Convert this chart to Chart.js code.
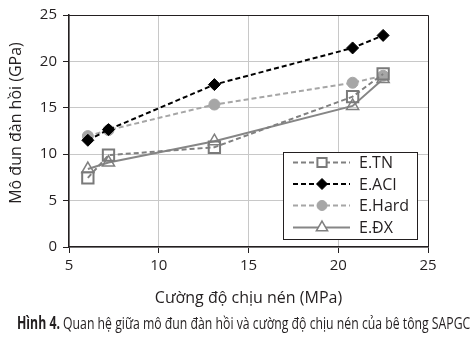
<!DOCTYPE html>
<html>
<head>
<meta charset="utf-8">
<script src="https://cdn.jsdelivr.net/npm/chart.js@4"></script>
<style>
  html, body { margin: 0; padding: 0; background: #fff; }
  #wrap { position: relative; width: 475px; height: 338px; overflow: hidden; }
  #box { position: absolute; left: 0; top: 0; width: 475px; height: 312px; }
  #caption {
    position: absolute; left: 17px; top: 313px; white-space: nowrap;
    font-family: "Open Sans", sans-serif; font-size: 17px; color: #231f20;
    transform-origin: 0 0; line-height: 20px;
  }
  #caption b { font-weight: 700; }
</style>
</head>
<body>
<div id="wrap">
  <div id="box"><canvas id="c"></canvas></div>
  <div id="caption"><b>Hình 4.</b> Quan hệ giữa mô đun đàn hồi và cường độ chịu nén của bê tông SAPGC</div>
</div>
<script>
// Compressive strength (MPa) of the test groups
const compressiveStrength = [6.05, 7.2, 13.1, 20.8, 22.5];

// Elastic modulus (GPa): measured and predicted
const eTN   = [7.45, 9.9, 10.75, 16.2, 18.65];
const eACI  = [11.5, 12.65, 17.5, 21.45, 22.8];
const eHard = [11.95, 12.6, 15.35, 17.7, 18.45];
const eDX   = [8.4, 9.1, 11.4, 15.2, 18.1];

const seriesLabels = ['E.TN', 'E.ACI', 'E.Hard', 'E.ĐX'];
const xTicks = [5, 10, 15, 20, 25];
const yTicks = [0, 5, 10, 15, 20, 25];
const yTitle = 'Mô đun đàn hồi (GPa)';

const ink = '#231f20';
const toPoints = ys => ys.map((y, i) => ({ x: compressiveStrength[i], y }));

const datasets = [
  { label: seriesLabels[0], data: toPoints(eTN), borderColor: '#808080', borderDash: [5, 3], borderWidth: 2,
    pointStyle: 'rect', pointRadius: 8, pointBorderWidth: 2, pointBorderColor: '#7a7a7a', pointBackgroundColor: 'rgba(255,255,255,0)',
    legendRadius: 6.5, legendFill: '#fff' },
  { label: seriesLabels[1], data: toPoints(eACI), borderColor: '#000', borderDash: [5, 3], borderWidth: 2,
    pointStyle: 'rectRot', pointRadius: 6, pointBorderWidth: 1, pointBorderColor: '#000', pointBackgroundColor: '#000',
    legendRadius: 5.5, legendFill: '#000' },
  { label: seriesLabels[2], data: toPoints(eHard), borderColor: '#a6a6a6', borderDash: [5, 3], borderWidth: 2,
    pointStyle: 'circle', pointRadius: 5.5, pointBorderWidth: 1, pointBorderColor: '#a6a6a6', pointBackgroundColor: '#a6a6a6',
    legendRadius: 5, legendFill: '#a6a6a6' },
  { label: seriesLabels[3], data: toPoints(eDX), borderColor: '#868686', borderDash: [], borderWidth: 2,
    pointStyle: 'triangle', pointRadius: 7, pointBorderWidth: 1.5, pointBorderColor: '#808080', pointBackgroundColor: 'rgba(255,255,255,0)',
    legendRadius: 6.5, legendFill: '#fff' }
];

// Top and right edges of the plot frame, plus the rotated y-axis title
const framePlugin = {
  id: 'frame',
  afterDraw(chart) {
    const { ctx, chartArea: a } = chart;
    ctx.save();
    ctx.strokeStyle = ink;
    ctx.lineWidth = 1;
    ctx.beginPath();
    ctx.moveTo(a.left, a.top + 0.5);
    ctx.lineTo(a.right + 0.5, a.top + 0.5);
    ctx.lineTo(a.right + 0.5, a.bottom);
    ctx.stroke();

    ctx.translate(16, 123);
    ctx.rotate(-Math.PI / 2);
    ctx.fillStyle = ink;
    ctx.font = '16px "Open Sans", sans-serif';
    ctx.textAlign = 'center';
    ctx.textBaseline = 'middle';
    ctx.fillText(yTitle, 0, 0);
    ctx.restore();
  }
};

// Boxed legend in the lower right of the plot
const boxLegend = {
  id: 'boxLegend',
  afterDraw(chart) {
    const { ctx } = chart;
    const x0 = 283, y0 = 152, w = 134, h = 87;
    const rows = [162.5, 184, 205.5, 227.5];
    ctx.save();
    ctx.fillStyle = '#fff';
    ctx.fillRect(x0, y0, w, h);
    ctx.strokeStyle = ink;
    ctx.lineWidth = 1;
    ctx.strokeRect(x0 + 0.5, y0 + 0.5, w, h);
    chart.data.datasets.forEach((ds, i) => {
      const y = rows[i];
      ctx.save();
      ctx.strokeStyle = ds.borderColor;
      ctx.lineWidth = ds.borderWidth;
      ctx.setLineDash(ds.borderDash);
      ctx.beginPath();
      ctx.moveTo(293, y);
      ctx.lineTo(350, y);
      ctx.stroke();
      ctx.setLineDash([]);
      ctx.fillStyle = ds.legendFill;
      ctx.strokeStyle = ds.pointBorderColor;
      ctx.lineWidth = ds.pointBorderWidth;
      Chart.helpers.drawPoint(ctx, {
        pointStyle: ds.pointStyle, radius: ds.legendRadius, borderWidth: ds.pointBorderWidth, rotation: 0
      }, 322, y);
      ctx.fillStyle = ink;
      ctx.font = '16px "Open Sans", sans-serif';
      ctx.textBaseline = 'middle';
      ctx.textAlign = 'left';
      ctx.fillText(ds.label, 359, y + 1);
      ctx.restore();
    });
    ctx.restore();
  }
};

new Chart(document.getElementById('c'), {
  type: 'line',
  data: { datasets },
  options: {
    responsive: true,
    maintainAspectRatio: false,
    animation: false,
    events: [],
    layout: { padding: { left: 0, top: 13, right: 47, bottom: 0 } },
    plugins: { legend: { display: false }, tooltip: { enabled: false } },
    scales: {
      x: {
        type: 'linear', min: 5, max: 25,
        afterBuildTicks: s => { s.ticks = xTicks.map(v => ({ value: v })); },
        afterFit: s => { s.height = 65; },
        ticks: { color: ink, font: { family: 'Open Sans', size: 15 }, padding: 4 },
        grid: { color: '#c8c8c8', lineWidth: 1, borderDash: [6, 4], tickColor: ink, tickLength: 6, tickBorderDash: [], tickWidth: 1 },
        border: { color: ink, width: 1.5 },
        title: { display: true, text: 'Cường độ chịu nén (MPa)', color: ink,
                 font: { family: 'Open Sans', size: 16 }, padding: { top: 0, bottom: 4 } }
      },
      y: {
        min: 0, max: 25,
        afterBuildTicks: s => { s.ticks = yTicks.map(v => ({ value: v })); },
        afterFit: s => { s.width = 69; },
        ticks: { color: ink, font: { family: 'Open Sans', size: 15 }, padding: 6 },
        grid: { color: '#c8c8c8', lineWidth: 1, borderDash: [6, 4], tickColor: ink, tickLength: 6, tickBorderDash: [], tickWidth: 1 },
        border: { color: ink, width: 1.5 }
      }
    }
  },
  plugins: [framePlugin, boxLegend]
});

// Fit the caption to the figure width
const cap = document.getElementById('caption');
const sx = 453 / cap.scrollWidth;
cap.style.transform = 'scaleX(' + sx + ')';
</script>
</body>
</html>
